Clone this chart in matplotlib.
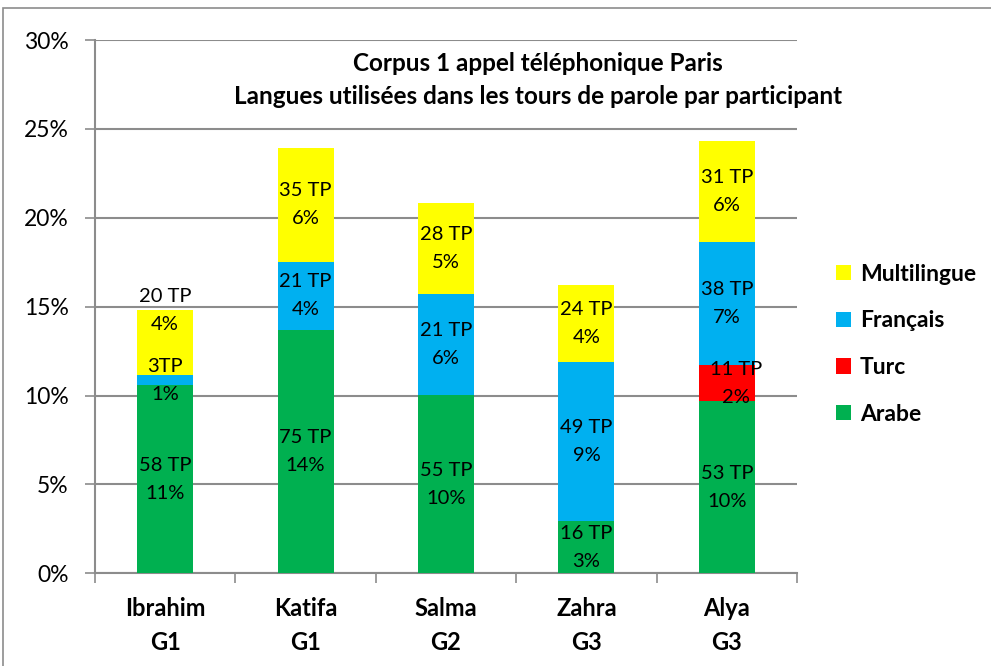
import matplotlib

matplotlib.use("Agg")
import matplotlib.pyplot as plt
from matplotlib.patches import Rectangle
from matplotlib.ticker import FuncFormatter, FixedLocator

plt.rcParams["font.family"] = ["Lato", "DejaVu Sans"]

participants = ["Ibrahim\nG1", "Katifa\nG1", "Salma\nG2", "Zahra\nG3", "Alya\nG3"]
series = ["Arabe", "Turc", "Français", "Multilingue"]
colors = {"Arabe": "#00B050", "Turc": "#FF0000", "Français": "#00B0F0", "Multilingue": "#FFFF00"}

# share of speech turns (%)
arabe = [10.58, 13.71, 10.03, 2.95, 9.70]
turc = [0.0, 0.0, 0.0, 0.0, 2.00]
francais = [0.56, 3.81, 5.69, 8.92, 6.94]
multilingue = [3.66, 6.41, 5.12, 4.37, 5.67]

# label texts (TP count, rounded %)
tp_arabe = ["58 TP", "75 TP", "55 TP", "16 TP", "53 TP"]
pct_arabe = ["11%", "14%", "10%", "3%", "10%"]
tp_turc = [None, None, None, None, "11 TP"]
pct_turc = [None, None, None, None, "2%"]
tp_fr = ["3TP", "21 TP", "21 TP", "49 TP", "38 TP"]
pct_fr = ["1%", "4%", "6%", "9%", "7%"]
tp_multi = ["20 TP", "35 TP", "28 TP", "24 TP", "31 TP"]
pct_multi = ["4%", "6%", "5%", "4%", "6%"]

values = {"Arabe": arabe, "Turc": turc, "Français": francais, "Multilingue": multilingue}
labels = {
    "Arabe": (tp_arabe, pct_arabe),
    "Turc": (tp_turc, pct_turc),
    "Français": (tp_fr, pct_fr),
    "Multilingue": (tp_multi, pct_multi),
}

fig = plt.figure(figsize=(9.91, 6.66), dpi=100)
ax = fig.add_axes([95 / 991, 1 - 573.3 / 666, 702 / 991, 533.3 / 666])

# outer chart frame
fig.patches.append(Rectangle((3 / 991, -0.05), 1.1, 1 - 8 / 666 + 0.05,
                             transform=fig.transFigure, fill=False,
                             edgecolor="#8C8C8C", linewidth=1.2, zorder=0))

x = list(range(len(participants)))
bottom = [0.0] * len(x)
handles = {}
for name in series:
    vals = values[name]
    bars = ax.bar(x, vals, width=0.4, bottom=bottom, color=colors[name],
                  edgecolor="none", zorder=3, label=name)
    handles[name] = bars
    tps, pcts = labels[name]
    for i, v in enumerate(vals):
        if tps[i] is None:
            continue
        y = bottom[i] + v / 2
        dx = 0
        if name == "Multilingue" and i == 0:
            y = bottom[i] + v  # label sits on top edge
        if name == "Turc":
            dx = 6.5
        ax.annotate(f"{tps[i]}\n{pcts[i]}", (i, y), xytext=(dx, 0),
                    textcoords="offset points", ha="center", va="center",
                    fontsize=14.5, linespacing=1.78, zorder=5)
    bottom = [b + v for b, v in zip(bottom, vals)]

ax.set_xlim(-0.5, 4.5)
ax.set_ylim(0, 30)
ax.yaxis.set_major_locator(FixedLocator([0, 5, 10, 15, 20, 25, 30]))
ax.yaxis.set_major_formatter(FuncFormatter(lambda v, _: f"{v:.0f}%"))
ax.grid(axis="y", color="#8C8C8C", linewidth=1.5, zorder=0)
ax.set_axisbelow(True)

ax.set_xticks(x)
ax.set_xticklabels(participants, fontsize=17, fontweight="bold", linespacing=1.6)
ax.xaxis.set_minor_locator(FixedLocator([-0.5, 0.5, 1.5, 2.5, 3.5, 4.5]))
ax.tick_params(axis="x", which="major", length=0, pad=17)
ax.tick_params(axis="x", which="minor", length=7, width=1.2, color="#8C8C8C", direction="out")
ax.tick_params(axis="y", length=7, width=1.2, color="#8C8C8C", labelsize=16.5, pad=12)

for side in ("top", "right"):
    ax.spines[side].set_visible(False)
for side in ("left", "bottom"):
    ax.spines[side].set_color("#8C8C8C")
    ax.spines[side].set_linewidth(1.5)

fig.text(538 / 991, 1 - 80 / 666,
         "Corpus 1 appel téléphonique Paris\nLangues utilisées dans les tours de parole par participant",
         ha="center", va="center", fontsize=17.5, fontweight="bold", linespacing=1.5)

order = ["Multilingue", "Français", "Turc", "Arabe"]
fig.legend([handles[n] for n in order], order, loc="upper left",
           bbox_to_anchor=(815 / 991, 1 - 243 / 666), frameon=False,
           prop={"size": 16.5, "weight": "bold"}, handlelength=0.65, handleheight=0.65,
           handletextpad=0.4, labelspacing=1.12)

fig.savefig("out.png", dpi=100)
